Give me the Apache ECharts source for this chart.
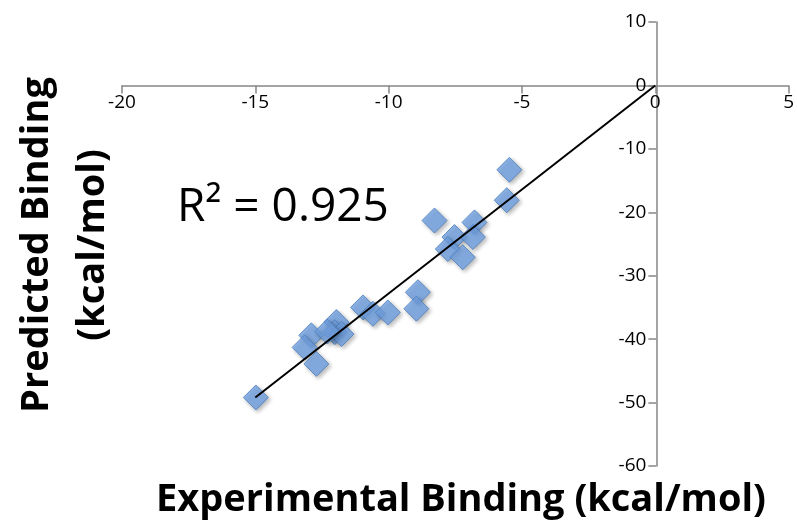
<!DOCTYPE html>
<html>
<head>
<meta charset="utf-8">
<script src="https://cdn.jsdelivr.net/npm/echarts@6/dist/echarts.min.js"></script>
<style>
    html, body { margin: 0; padding: 0; background: #fff; }
    #main { width: 797px; height: 525px; }
</style>
</head>
<body>
<div id="main"></div>
<script>
// experimental vs predicted binding, kcal/mol
const experimental = [-14.98, -12.90, -13.15, -12.71, -11.96, -12.02, -11.77, -12.30,
    -10.96, -10.59, -10.03, -8.90, -8.96, -8.28, -6.78, -7.53, -6.84, -7.78, -7.22, -5.47, -5.57];
const predicted = [-49.2, -39.4, -41.3, -43.9, -37.3, -38.9, -39.2, -38.8,
    -35.0, -36.0, -35.8, -32.6, -35.2, -21.3, -21.6, -23.9, -23.9, -25.8, -27.1, -13.3, -18.1];

// trend line end points
const trendX = [-15, 0];
const trendY = [-49.2, 0];

const xTicks = [-20, 5, 5];   // min, max, interval
const yTicks = [-60, 10, 10];
const r2Label = 'R\u00B2 = 0.925';

document.addEventListener('DOMContentLoaded', function () {
    drawBindingChart();
});

function drawBindingChart() {

    let myChart = echarts.init(document.getElementById('main'));

    let points = experimental.map(function (x, i) {
        return [x, predicted[i]];
    });
    let trend = trendX.map(function (x, i) {
        return [x, trendY[i]];
    });

    let axisFont = '"Open Sans", "Noto Sans", sans-serif';
    let gridLeft = 122, gridRight = 7, gridTop = 22, gridBottom = 59;
    let plotW = 797 - gridLeft - gridRight;
    let plotH = 525 - gridTop - gridBottom;
    // axes cross at (0, 0): shift them in with offsets instead of onZero
    let yShift = plotW * (0 - xTicks[0]) / (xTicks[1] - xTicks[0]);
    let xShift = plotH * (yTicks[1] - 0) / (yTicks[1] - yTicks[0]);

    let option = {
        animation: false,
        grid: {
            left: gridLeft,
            right: gridRight,
            top: gridTop,
            bottom: gridBottom
        },
        xAxis: {
            type: 'value',
            position: 'top',
            offset: -xShift,
            min: xTicks[0],
            max: xTicks[1],
            interval: xTicks[2],
            splitLine: { show: false },
            axisLine: { onZero: false, lineStyle: { color: '#868686', width: 1.5 } },
            axisTick: { inside: true, length: 8, lineStyle: { color: '#868686', width: 1.5 } },
            axisLabel: { inside: true, color: '#000', fontSize: 19, fontFamily: axisFont, margin: 8 }
        },
        yAxis: {
            type: 'value',
            min: yTicks[0],
            max: yTicks[1],
            interval: yTicks[2],
            offset: -yShift,
            splitLine: { show: false },
            axisLine: { onZero: false, lineStyle: { color: '#868686', width: 1.5 } },
            axisTick: { length: 8, lineStyle: { color: '#868686', width: 1.5 } },
            axisLabel: { color: '#000', fontSize: 19, fontFamily: axisFont, margin: 10 }
        },
        graphic: [
            {
                type: 'text',
                x: 177,
                y: 208,
                style: {
                    text: r2Label,
                    fill: '#000',
                    verticalAlign: 'middle',
                    font: '46px "Open Sans", "Noto Sans", sans-serif'
                }
            },
            {
                type: 'text',
                x: 65,
                y: 245,
                rotation: Math.PI / 2,
                style: {
                    text: 'Predicted Binding\n(kcal/mol)',
                    fill: '#000',
                    align: 'center',
                    verticalAlign: 'middle',
                    lineHeight: 56,
                    font: 'bold 38px "Open Sans", "Noto Sans", sans-serif'
                }
            },
            {
                type: 'text',
                x: 461,
                y: 500,
                style: {
                    text: 'Experimental Binding (kcal/mol)',
                    fill: '#000',
                    align: 'center',
                    verticalAlign: 'middle',
                    font: 'bold 38px "Open Sans", "Noto Sans", sans-serif'
                }
            }
        ],
        series: [
            {
                type: 'scatter',
                data: points,
                symbol: 'diamond',
                symbolSize: 25,
                itemStyle: {
                    color: '#73a4e6',
                    borderColor: '#4a7ebb',
                    borderWidth: 1,
                    shadowBlur: 4,
                    shadowOffsetX: 2,
                    shadowOffsetY: 2,
                    shadowColor: 'rgba(0,0,0,0.35)'
                },
                z: 2
            },
            {
                type: 'line',
                data: trend,
                symbol: 'none',
                lineStyle: { color: '#000', width: 2 },
                z: 3
            }
        ]
    };

    myChart.setOption(option);
}
</script>
</body>
</html>
